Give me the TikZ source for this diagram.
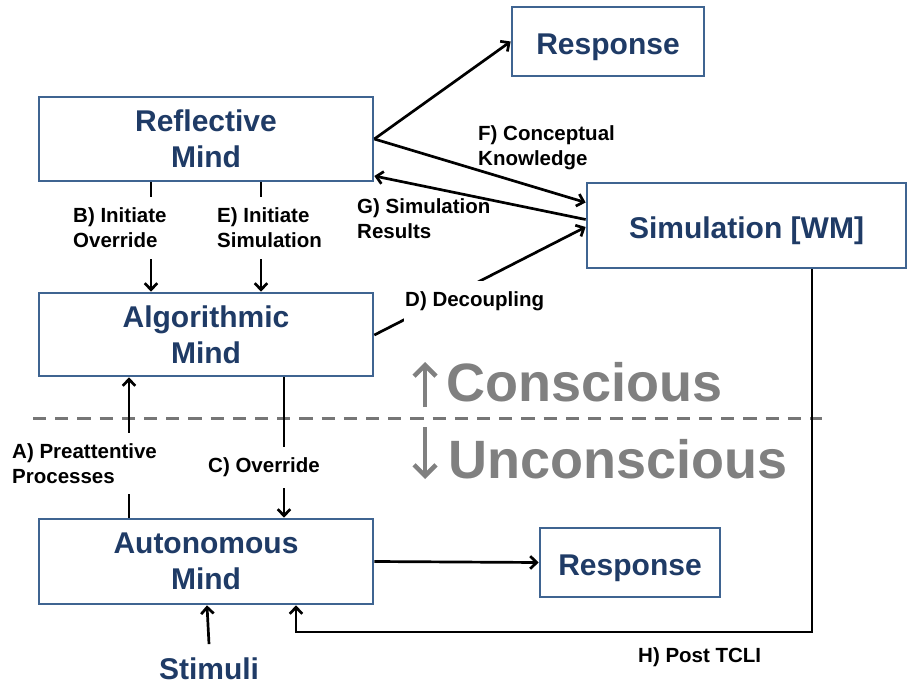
\documentclass[tikz,border=0pt]{standalone}
\usepackage{fontspec}
\setmainfont{Liberation Sans}
\usetikzlibrary{arrows.meta}
\definecolor{boxline}{HTML}{3F6491}
\definecolor{boxtext}{HTML}{1F3B66}
\definecolor{divgray}{RGB}{118,118,118}
\definecolor{levelgray}{RGB}{128,128,128}
\begin{document}
\begin{tikzpicture}[x=1pt,y=-1pt,
  mindbox/.style={draw=boxline, line width=2.7pt, fill=white, inner sep=0pt,
    text=boxtext, font=\fontsize{30}{36}\selectfont\bfseries, align=center},
  onelinebox/.style={mindbox, text height=26pt, text depth=0pt},
  arr/.style={line width=2.7pt, -{Straight Barb[length=6.5pt,width=12.5pt,line width=2.7pt]}},
  lbl/.style={font=\fontsize{20.5}{25}\selectfont\bfseries, align=left,
    inner xsep=1pt, inner ysep=0pt, anchor=west},
  cutlbl/.style={lbl, fill=white, inner ysep=10.5pt},
  divider/.style={draw=divgray, line width=3pt, dash pattern=on 13.2pt off 9pt},
  levelarrow/.style={draw=levelgray, line width=4.5pt,
    -{Straight Barb[length=11pt,width=22pt,line width=4.5pt]}},
  leveltext/.style={text=levelgray, font=\fontsize{54}{60}\selectfont\bfseries,
    inner sep=0pt, anchor=base west}
]
\useasboundingbox (0,0) rectangle (909,684);

% conscious / unconscious divider
\draw[divider] (33,418) -- (822,418);

% the three minds and their outputs
\node[mindbox, minimum width=334pt, minimum height=84pt] (refl) at (206,139) {Reflective\\Mind};
\node[mindbox, minimum width=334pt, minimum height=83pt] (algo) at (206,334.5) {Algorithmic\\Mind};
\node[mindbox, minimum width=334pt, minimum height=85pt] (auto) at (206,561.5) {Autonomous\\Mind};
\node[onelinebox, minimum width=192pt, minimum height=69pt] (resp1) at (608,41.5) {Response};
\node[onelinebox, minimum width=180pt, minimum height=69pt] (resp2) at (630,562.5) {Response};
\node[onelinebox, minimum width=319pt, minimum height=85pt] (sim) at (746.5,225.5) {Simulation [WM]};
\node[text=boxtext, font=\fontsize{30}{36}\selectfont\bfseries, anchor=base, inner sep=0pt] (stim) at (209,679) {Stimuli};

% level arrows and captions
\coordinate (cbot) at (425,407);
\coordinate (ctop) at (425,362);
\coordinate (utop) at (425,427);
\coordinate (ubot) at (425,479);
\draw[levelarrow] (cbot) -- (ctop);
\draw[levelarrow] (utop) -- (ubot);
\node[leveltext] (consc) at (446,401) {Conscious};
\node[leveltext] (unconsc) at (448,478) {Unconscious};

% connectors
\draw[arr] (refl.east) -- (resp1.west);
\draw[arr] (refl.east) -- ([yshift=23pt]sim.west);
\draw[arr] ([yshift=6pt]sim.west) -- ([yshift=-37pt]refl.east);
\draw[arr] ([yshift=-0.5pt]algo.east) -- ([yshift=-1.5pt]sim.west);
\draw[arr] ([xshift=-55pt]refl.south) -- ([xshift=-55pt]algo.north);
\draw[arr] ([xshift=55pt]refl.south) -- ([xshift=55pt]algo.north);
\draw[arr] ([xshift=-77pt]auto.north) -- ([xshift=-77pt]algo.south);
\draw[arr] ([xshift=78pt]algo.south) -- ([xshift=78pt]auto.north);
\draw[arr] (auto.east) -- (resp2.west);
\draw[arr] ([yshift=13pt]stim.north) -- ([xshift=1pt]auto.south);
\coordinate (hbend) at (296,632);
\draw[arr] ([xshift=65.5pt]sim.south) |- (hbend) -- ([xshift=90pt]auto.south);

% connector labels
\node[cutlbl] (lb) at (72,228) {B) Initiate\\Override};
\node[cutlbl] (le) at (216,228) {E) Initiate\\Simulation};
\node[lbl] (lf) at (477,148) {F) Conceptual\\Knowledge};
\node[lbl] (lg) at (356,219) {G) Simulation\\Results};
\node[cutlbl] (ld) at (404,301.5) {D) Decoupling};
\node[cutlbl] (la) at (11,463.5) {A) Preattentive\\Processes};
\node[cutlbl] (lc) at (207,467.5) {C) Override};
\node[lbl] (lh) at (637,657.5) {H) Post TCLI};
\end{tikzpicture}
\end{document}
